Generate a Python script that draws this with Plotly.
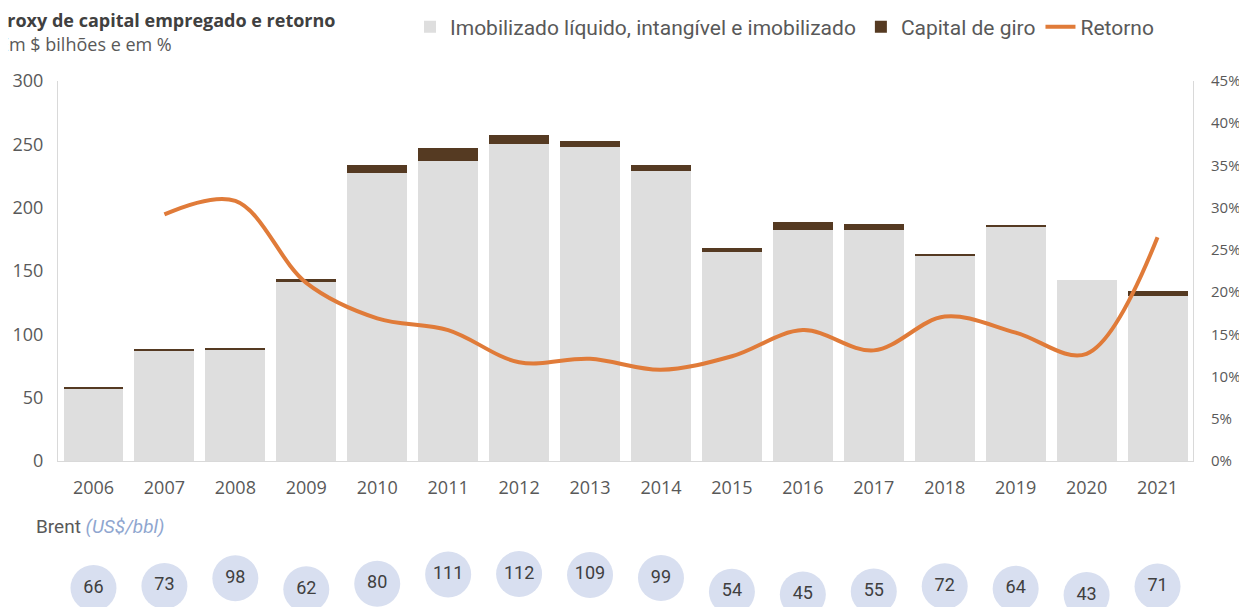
import plotly.graph_objects as go

years = ["2006","2007","2008","2009","2010","2011","2012","2013","2014","2015","2016","2017","2018","2019","2020","2021"]
imobilizado = [57, 87, 88, 141, 227.5, 237, 250, 248, 229, 165, 182, 182, 162, 185, 143, 130]
capital_giro = [1, 1, 1, 2.5, 6, 10, 7, 5, 5, 3.5, 7, 5, 1, 1, 0, 4]
retorno_years = years[1:]
retorno = [0.292, 0.308, 0.211, 0.169, 0.155, 0.117, 0.121, 0.108, 0.124, 0.155, 0.131, 0.171, 0.152, 0.127, 0.265]
brent = [66, 73, 98, 62, 80, 111, 112, 109, 99, 54, 45, 55, 72, 64, 43, 71]

TXT = "#595959"
AX = "#d9d9d9"
OFF = 8  # page body margin: figure is drawn 8px right/down of the window origin
W, H = 1247 - OFF, 607 - OFF
# plot area in window pixels: x 58..1193, y 81..461
ml, mr, mt, mb = 58 - OFF, W - (1193 - OFF), 81 - OFF, 0
plot_w = W - ml - mr
plot_h = H - mt - mb
main_bottom = (H - (461 - OFF)) / plot_h


def px_x(p):  # window pixel -> paper x
    return (p - OFF - ml) / plot_w


def px_y(p):  # window pixel -> paper y
    return 1 - (p - OFF - mt) / plot_h


fig = go.Figure()
fig.add_trace(go.Bar(x=years, y=imobilizado, name="Imobilizado líquido, intangível e imobilizado",
                     marker=dict(color="#dedede", line=dict(width=0))))
fig.add_trace(go.Bar(x=years, y=capital_giro, name="Capital de giro",
                     marker=dict(color="#553a22", line=dict(width=0))))
fig.add_trace(go.Scatter(x=retorno_years, y=retorno, name="Retorno", yaxis="y2", mode="lines",
                         line=dict(color="#e07b39", width=4, shape="spline", smoothing=1.0)))
fig.add_trace(go.Scatter(x=years, y=brent, yaxis="y3", mode="markers+text", showlegend=False,
                         text=[str(v) for v in brent], textposition="middle center",
                         textfont=dict(family="Roboto", size=18, color="#404040"),
                         marker=dict(size=46, color="#d8dff0", line=dict(width=0)),
                         cliponaxis=False, hoverinfo="skip"))

fig.update_layout(
    width=W, height=H,
    margin=dict(l=ml, r=mr, t=mt, b=mb, autoexpand=False),
    paper_bgcolor="white", plot_bgcolor="white",
    barmode="stack", bargap=0.155,
    font=dict(family="Open Sans", color=TXT, size=16),
    legend=dict(orientation="h", x=px_x(410), xanchor="left",
                y=px_y(27), yanchor="middle",
                font=dict(family="Roboto", size=21, color=TXT),
                itemwidth=30, traceorder="normal", bgcolor="rgba(0,0,0,0)", tracegroupgap=0),
    xaxis=dict(type="category", range=[-0.5, 15.5], showgrid=False, showline=True, linecolor=AX,
               linewidth=1, ticks="", tickfont=dict(size=18, color=TXT), anchor="y", ticklabelstandoff=10),
    yaxis=dict(domain=[main_bottom, 1], range=[0, 300], dtick=50, showgrid=False, showline=True,
               linecolor=AX, zeroline=False, ticks="", tickfont=dict(size=18, color=TXT), ticklabelstandoff=10),
    yaxis2=dict(overlaying="y", side="right", range=[0, 0.45], dtick=0.05, tickformat=".0%",
                showgrid=False, showline=True, linecolor=AX, zeroline=False, ticks="",
                tickfont=dict(size=15, color=TXT), ticklabelstandoff=14),
    yaxis3=dict(domain=[0, 0.1], range=[3.7, 176.7], visible=False, anchor="x", fixedrange=True),
    annotations=[
        dict(text="<b>Proxy de capital empregado e retorno</b>", xref="paper", yref="paper",
             x=px_x(-6), y=px_y(20), xanchor="left", yanchor="middle",
             showarrow=False, font=dict(family="Open Sans", size=18, color="#404040")),
        dict(text="Em $ bilhões e em %", xref="paper", yref="paper",
             x=px_x(-3), y=px_y(44), xanchor="left", yanchor="middle",
             showarrow=False, font=dict(family="Open Sans", size=18, color=TXT)),
        dict(text="Brent <i><span style='color:#8fa6cf'>(US$/bbl)</span></i>", xref="paper", yref="paper",
             x=px_x(34), y=px_y(526), xanchor="left", yanchor="middle",
             showarrow=False, font=dict(family="Roboto", size=19, color=TXT)),
    ],
)

fig.write_html("out.html")
